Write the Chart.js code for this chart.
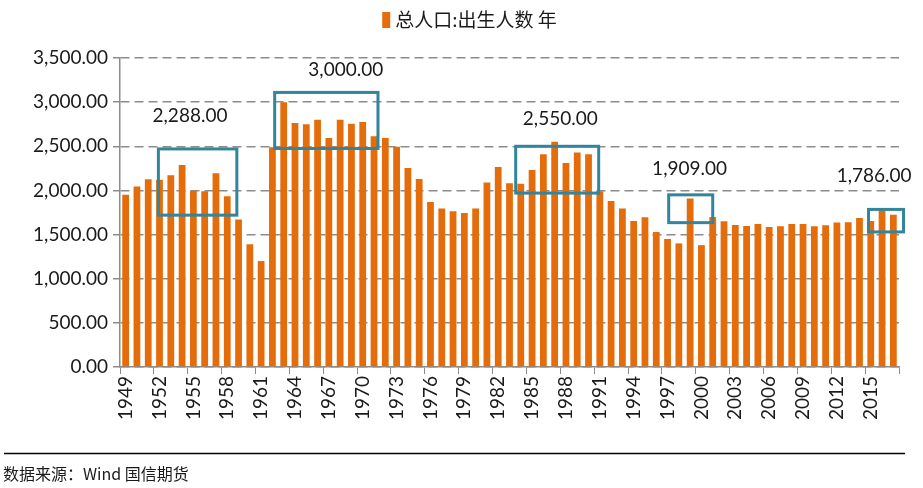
<!DOCTYPE html>
<html>
<head>
<meta charset="utf-8">
<script src="https://cdn.jsdelivr.net/npm/chart.js@4.4.0/dist/chart.umd.min.js"></script>
<style>
  html, body { margin: 0; padding: 0; background: #fff; }
</style>
</head>
<body>
<canvas id="chart-nacimientos" width="923" height="488"></canvas>
<script>
// 总人口:出生人数 (万人), 1949-2017
const YEARS = [
  '1949','1950','1951','1952','1953','1954','1955','1956','1957','1958',
  '1959','1960','1961','1962','1963','1964','1965','1966','1967','1968',
  '1969','1970','1971','1972','1973','1974','1975','1976','1977','1978',
  '1979','1980','1981','1982','1983','1984','1985','1986','1987','1988',
  '1989','1990','1991','1992','1993','1994','1995','1996','1997','1998',
  '1999','2000','2001','2002','2003','2004','2005','2006','2007','2008',
  '2009','2010','2011','2012','2013','2014','2015','2016','2017',
];
const BIRTHS = [
  1950, 2045, 2128, 2122, 2172, 2288, 1995, 1990, 2195, 1935,
  1670, 1390, 1200, 2490, 3000, 2763, 2750, 2800, 2595, 2800,
  2755, 2775, 2615, 2595, 2495, 2255, 2130, 1870, 1795, 1765,
  1745, 1795, 2090, 2265, 2080, 2075, 2230, 2410, 2550, 2310,
  2430, 2410, 1990, 1880, 1795, 1655, 1695, 1530, 1450, 1400,
  1909, 1380, 1700, 1650, 1608, 1597, 1620, 1585, 1595, 1620,
  1620, 1595, 1605, 1637, 1640, 1687, 1655, 1786, 1725,
];
const Y_TICKS = [0, 500, 1000, 1500, 2000, 2500, 3000, 3500];
const SERIES_LABEL = '总人口:出生人数 年';
const SOURCE_TEXT = '数据来源：Wind 国信期货';

// años destacados con su valor
const CALLOUT_YEARS = ['1954', '1963', '1987', '1999', '2016'];

// recuadros en coordenadas de datos (índice de categoría, valor)
const BOXES = [
  { x0: 2.9,  x1: 9.85, y0: 1720, y1: 2470 },
  { x0: 13.2, x1: 22.35, y0: 2475, y1: 3110 },
  { x0: 34.55, x1: 41.9, y0: 1970, y1: 2500 },
  { x0: 48.1, x1: 52.0, y0: 1635, y1: 1950 },
  { x0: 65.8, x1: 68.9, y0: 1530, y1: 1785 },
];
const CALLOUT_POS = [
  { x: 5.7,   y: 2845 },
  { x: 19.5,  y: 3364 },
  { x: 38.5,  y: 2811 },
  { x: 49.95, y: 2247 },
  { x: 66.3,  y: 2168 },
];

const BAR_COLOR  = '#E46C0A';
const BOX_COLOR  = '#31859C';
const AXIS_COLOR = '#8c8c8c';
const TEXT_COLOR = '#1a1a1a';

const fmt = v => v.toLocaleString('en-US', { minimumFractionDigits: 2, maximumFractionDigits: 2 });

const decor = {
  id: 'decor',
  afterDatasetsDraw(chart) {
    const { ctx, scales: { x, y } } = chart;
    ctx.save();
    ctx.strokeStyle = BOX_COLOR;
    ctx.lineWidth = 3;
    for (const b of BOXES) {
      const l = x.getPixelForValue(b.x0), r = x.getPixelForValue(b.x1);
      const t = y.getPixelForValue(b.y1), bt = y.getPixelForValue(b.y0);
      ctx.strokeRect(l, t, r - l, bt - t);
    }
    ctx.font = '19px Lato';
    ctx.fillStyle = TEXT_COLOR;
    ctx.textAlign = 'center';
    ctx.textBaseline = 'middle';
    CALLOUT_YEARS.forEach((yr, k) => {
      const v = BIRTHS[YEARS.indexOf(yr)];
      const p = CALLOUT_POS[k];
      ctx.fillText(fmt(v), x.getPixelForValue(p.x), y.getPixelForValue(p.y));
    });
    ctx.restore();
  },
  afterDraw(chart) {
    const { ctx, width } = chart;
    ctx.save();
    // leyenda centrada
    ctx.font = '19px "Noto Sans CJK SC"';
    const tw = ctx.measureText(SERIES_LABEL).width;
    const lx = (width - (tw + 13)) / 2 + 8;
    ctx.fillStyle = BAR_COLOR;
    ctx.fillRect(lx, 12, 8, 16);
    ctx.fillStyle = TEXT_COLOR;
    ctx.textAlign = 'left';
    ctx.textBaseline = 'middle';
    ctx.fillText(SERIES_LABEL, lx + 13, 20);
    ctx.restore();

    // pie: línea y fuente
    ctx.save();
    ctx.strokeStyle = '#000';
    ctx.lineWidth = 1.5;
    ctx.beginPath();
    ctx.moveTo(4, 453.5);
    ctx.lineTo(905, 453.5);
    ctx.stroke();
    ctx.fillStyle = TEXT_COLOR;
    ctx.font = '16px "Noto Sans CJK SC"';
    ctx.textAlign = 'left';
    ctx.textBaseline = 'middle';
    ctx.fillText(SOURCE_TEXT, 3, 474);
    ctx.restore();
  },
};

new Chart(document.getElementById('chart-nacimientos'), {
  type: 'bar',
  data: {
    labels: YEARS,
    datasets: [{
      label:           SERIES_LABEL,
      data:            BIRTHS,
      backgroundColor: BAR_COLOR,
      barPercentage:   0.6,
      categoryPercentage: 1,
    }],
  },
  options: {
    responsive: false,
    animation:  false,
    layout: { padding: { top: 58, right: 24, left: 0, bottom: 0 } },
    plugins: {
      legend:  { display: false },
      tooltip: { enabled: false },
    },
    scales: {
      x: {
        afterFit: s => { s.height = 121; },
        grid: {
          offset: true,
          drawOnChartArea: false,
          tickLength: 7,
          color: c => (c.index === undefined || c.index % 3 === 0) ? AXIS_COLOR : 'transparent',
        },
        border: { color: AXIS_COLOR, width: 1.5 },
        ticks: {
          autoSkip: false,
          maxRotation: 90,
          minRotation: 90,
          padding: 2,
          color: TEXT_COLOR,
          font: { family: 'Lato', size: 19 },
          callback: (v, i) => (i % 3 === 0 ? YEARS[i] : ''),
        },
      },
      y: {
        min: 0,
        max: 3500,
        afterFit: s => { s.width = 120; },
        afterBuildTicks: s => { s.ticks = Y_TICKS.map(v => ({ value: v })); },
        grid: {
          color: AXIS_COLOR,
          lineWidth: 1.5,
          tickLength: 7,
          tickBorderDash: [],
        },
        border: { color: AXIS_COLOR, width: 1.5, dash: [9, 5] },
        ticks: {
          padding: 5,
          color: TEXT_COLOR,
          font: { family: 'Lato', size: 19 },
          callback: v => fmt(v),
        },
      },
    },
  },
  plugins: [decor],
});
</script>
</body>
</html>
